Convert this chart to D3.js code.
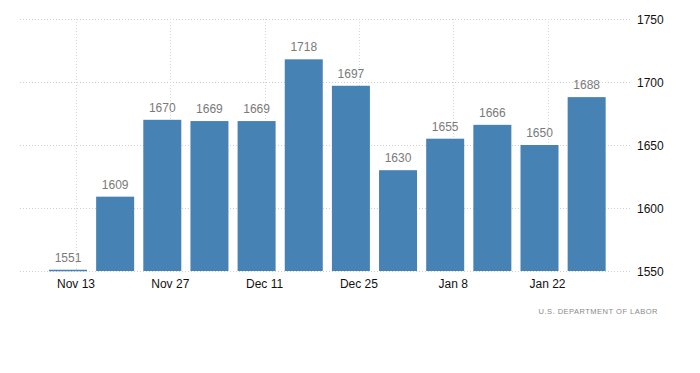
<!DOCTYPE html>
<html>
<head>
<meta charset="utf-8">
<script src="https://cdn.jsdelivr.net/npm/d3@7"></script>
<style>
    body { margin: 0; background: #fff; }
    text { font-family: "Liberation Sans", Arial, sans-serif; }
</style>
</head>
<body>
<div id="chart"></div>
<script>
// weekly figures, thousands
var weeks = ["2021-11-13", "2021-11-20", "2021-11-27", "2021-12-04", "2021-12-11", "2021-12-18",
    "2021-12-25", "2022-01-01", "2022-01-08", "2022-01-15", "2022-01-22", "2022-01-29"];
var values = [1551, 1609, 1670, 1669, 1669, 1718, 1697, 1630, 1655, 1666, 1650, 1688];
var tickDates = ["2021-11-13", "2021-11-27", "2021-12-11", "2021-12-25", "2022-01-08", "2022-01-22"];
var yTicks = [1550, 1600, 1650, 1700, 1750];
var source = "U.S. DEPARTMENT OF LABOR";

var width = 700, height = 373;
var parse = d3.timeParse("%Y-%m-%d");
var dates = weeks.map(parse);

var svg = d3.select("#chart").append("svg")
    .attr("width", width)
    .attr("height", height);

var plotLeft = 20, plotRight = 630, plotTop = 19, plotBottom = 271;

var x = d3.scaleTime()
    .domain([parse(tickDates[0]), parse(tickDates[tickDates.length - 1])])
    .range([76, 547.5]);

var y = d3.scaleLinear()
    .domain([1550, 1750])
    .range([plotBottom, plotTop]);

var barWidth = 38, barShift = -8;

// horizontal grid
svg.append("g")
    .selectAll("line")
    .data(yTicks)
    .enter()
    .append("line")
    .attr("x1", plotLeft)
    .attr("x2", plotRight)
    .attr("y1", function (d) { return Math.round(y(d)) + 0.5; })
    .attr("y2", function (d) { return Math.round(y(d)) + 0.5; })
    .attr("stroke", "#cfcfcf")
    .attr("stroke-dasharray", "1,2");

// vertical grid at ticks
svg.append("g")
    .selectAll("line")
    .data(tickDates.map(parse))
    .enter()
    .append("line")
    .attr("x1", function (d) { return Math.round(x(d)) + 0.5; })
    .attr("x2", function (d) { return Math.round(x(d)) + 0.5; })
    .attr("y1", plotTop)
    .attr("y2", plotBottom)
    .attr("stroke", "#d8d8d8")
    .attr("stroke-dasharray", "1,2");

// bars
svg.append("g")
    .selectAll("rect")
    .data(values)
    .enter()
    .append("rect")
    .attr("x", function (d, i) { return x(dates[i]) + barShift - barWidth / 2; })
    .attr("y", function (d) { return y(d); })
    .attr("width", barWidth)
    .attr("height", function (d) { return Math.max(y(1550) - y(d), 1.5); })
    .attr("fill", "#4682b4");

// value labels
svg.append("g")
    .selectAll("text")
    .data(values)
    .enter()
    .append("text")
    .attr("x", function (d, i) { return x(dates[i]) + barShift; })
    .attr("y", function (d) { return y(d) - 8; })
    .attr("text-anchor", "middle")
    .attr("font-size", 12)
    .attr("fill", "#7a7a7a")
    .text(function (d) { return d; });

// x axis labels
svg.append("g")
    .selectAll("text")
    .data(tickDates.map(parse))
    .enter()
    .append("text")
    .attr("x", function (d) { return x(d); })
    .attr("y", 288)
    .attr("text-anchor", "middle")
    .attr("font-size", 12)
    .attr("fill", "#111")
    .text(d3.timeFormat("%b %-d"));

// y axis labels on right
svg.append("g")
    .selectAll("text")
    .data(yTicks)
    .enter()
    .append("text")
    .attr("x", 637)
    .attr("y", function (d) { return y(d) + 4.5; })
    .attr("font-size", 12)
    .attr("fill", "#111")
    .text(function (d) { return d; });

svg.append("text")
    .attr("x", 658)
    .attr("y", 314)
    .attr("text-anchor", "end")
    .attr("font-size", 7.5)
    .attr("letter-spacing", 0.5)
    .attr("fill", "#8a8a8a")
    .text(source);
</script>
</body>
</html>
